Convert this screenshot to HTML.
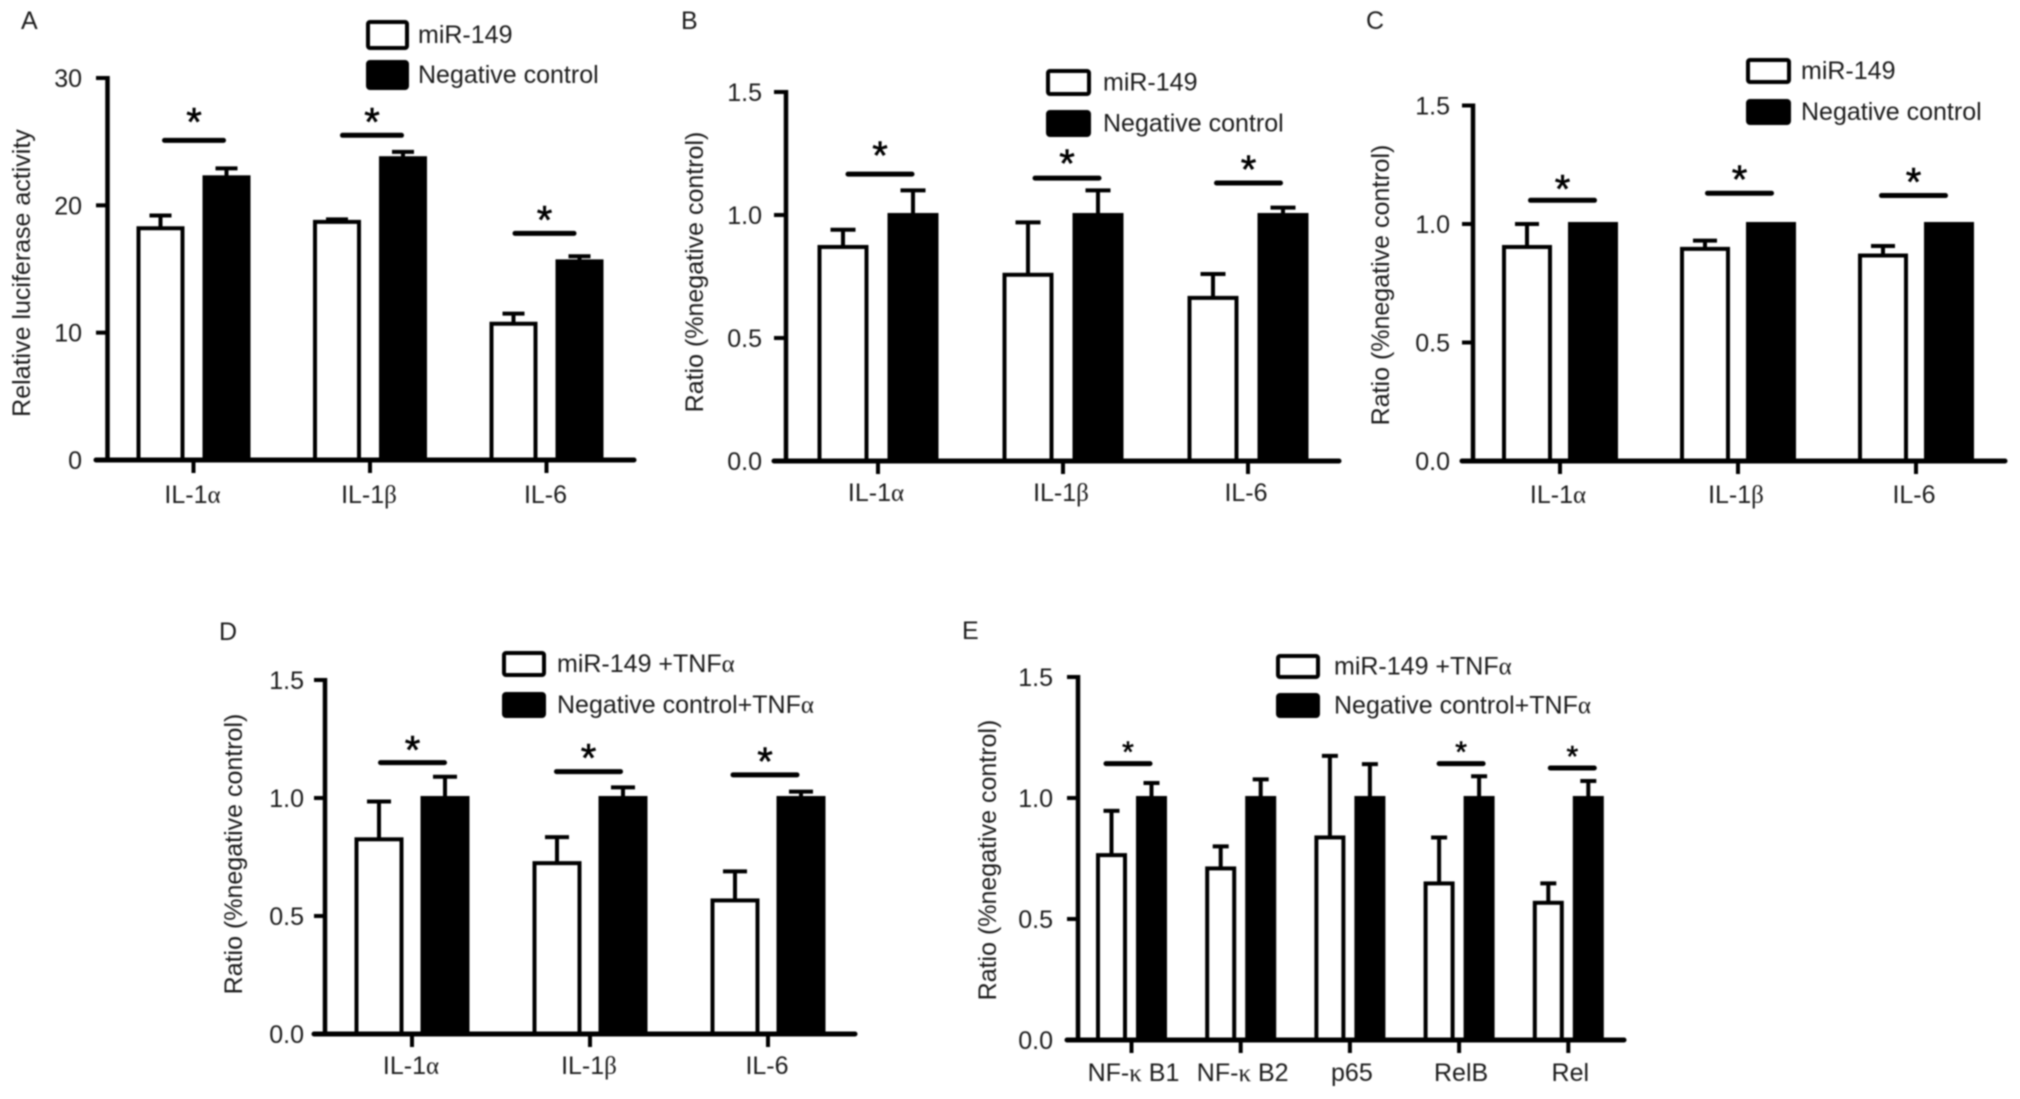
<!DOCTYPE html>
<html lang="en">
<head>
<meta charset="utf-8">
<title>miR-149 bar chart panels</title>
<style>
  html, body { margin: 0; padding: 0; background: #fff; }
  #figure { display: block; width: 2020px; height: 1099px; filter: blur(0.85px); }
  text { font-family: "Liberation Sans", sans-serif; fill: #1c1c1c; }
  .greek { font-family: "Liberation Serif", serif; }
</style>
</head>
<body>
<svg id="figure" xmlns="http://www.w3.org/2000/svg" width="2020" height="1099" viewBox="0 0 2020 1099"></svg>
<script>
// ---- Data ----
const ratioTickValues = [0, 0.5, 1, 1.5];
const ratioTickLabels = ['0.0', '0.5', '1.0', '1.5'];
const luciferaseTickValues = [0, 10, 20, 30];
const luciferaseTickLabels = ['0', '10', '20', '30'];
const ilCategories = ['IL-1α', 'IL-1β', 'IL-6'];
const nfCategories = ['NF-κ B1', 'NF-κ B2', 'p65', 'RelB', 'Rel'];
const seriesNames = ['miR-149', 'Negative control'];
const tnfSeriesNames = ['miR-149 +TNFα', 'Negative control+TNFα'];

const aMirValues = [18.2, 18.7, 10.7];
const aMirErrorTops = [19.2, 18.9, 11.5];
const aControlValues = [22.2, 23.7, 15.6];
const aControlErrorTops = [22.9, 24.2, 16.0];
const aSigLevels = [25.1, 25.5, 17.8];

const bMirValues = [0.87, 0.757, 0.663];
const bMirErrorTops = [0.94, 0.97, 0.76];
const bControlValues = [1, 1, 1];
const bControlErrorTops = [1.10, 1.10, 1.03];
const bSigLevels = [1.166, 1.15, 1.13];

const cMirValues = [0.903, 0.895, 0.867];
const cMirErrorTops = [1.0, 0.93, 0.907];
const cControlValues = [1, 1, 1];
const cControlErrorTops = [1, 1, 1];
const cSigLevels = [1.10, 1.13, 1.12];

const dMirValues = [0.825, 0.724, 0.566];
const dMirErrorTops = [0.985, 0.834, 0.689];
const dControlValues = [1, 1, 1];
const dControlErrorTops = [1.09, 1.045, 1.027];
const dSigLevels = [1.15, 1.112, 1.098];

const eMirValues = [0.764, 0.709, 0.837, 0.647, 0.567];
const eMirErrorTops = [0.947, 0.80, 1.174, 0.837, 0.647];
const eControlValues = [1, 1, 1, 1, 1];
const eControlErrorTops = [1.062, 1.077, 1.14, 1.09, 1.07];
const eSigLevels = [1.142, null, null, 1.142, 1.124];

// ---- Drawing helpers ----
const SVGNS = 'http://www.w3.org/2000/svg';
const svg = document.getElementById('figure');

function make(parent, tag, attrs) {
  const node = document.createElementNS(SVGNS, tag);
  for (const k in attrs) node.setAttribute(k, attrs[k]);
  parent.appendChild(node);
  return node;
}

function addCategoryText(node, label) {
  // Greek letters use a serif face, as in the original figure
  label.split(/([αβκ])/).forEach(function (part) {
    if (!part) return;
    const span = make(node, 'tspan', {});
    if (/[αβκ]/.test(part)) span.setAttribute('class', 'greek');
    span.textContent = part;
  });
}

function drawPanel(p) {
  const g = make(svg, 'g', {});
  
  

  const yMax = Math.max.apply(null, p.tickValues);
  const yScale = function (v) { return p.y0 - (v / yMax) * (p.y0 - p.yTop); };
  const xScale = function (i) { return p.x0 + i * p.step; };

  // Panel letter
  const letter = make(g, 'text', { x: p.letterX, y: p.letterY, 'font-size': 25 });
  
  
  letter.textContent = p.letter;

  // Y axis title
  const titleX = p.titleX, titleY = p.titleY;
  const title = make(g, 'text', {
    x: titleX, y: titleY, 'font-size': 25, 'text-anchor': 'middle',
    transform: 'rotate(-90 ' + titleX + ' ' + titleY + ')'
  });
  
  
  title.textContent = p.yTitle;

  // Bars, error bars, category ticks
  p.categories.forEach(function (cat, i) {
    const cx = xScale(i);
    [
      { c: cx - p.off, v: p.mir[i], e: p.mirErr[i], filled: false, name: 'bar-mir-' + i },
      { c: cx + p.off, v: p.ctl[i], e: p.ctlErr[i], filled: true, name: 'bar-control-' + i }
    ].forEach(function (s) {
      if (s.e > s.v) {
        const stem = make(g, 'line', { x1: s.c, x2: s.c, y1: yScale(s.v), y2: yScale(s.e), stroke: '#000', 'stroke-width': 4 });
        
        
        const cap = make(g, 'line', { x1: s.c - p.cap / 2, x2: s.c + p.cap / 2, y1: yScale(s.e), y2: yScale(s.e), stroke: '#000', 'stroke-width': 4 });
        
        
      }
      const top = yScale(s.v);
      const bar = make(g, 'rect', {
        x: s.c - p.barW / 2 + 2, y: top, width: p.barW - 4, height: p.y0 - top,
        fill: s.filled ? '#000' : '#fff', stroke: '#000', 'stroke-width': 4
      });
      
      
    });

    const tick = make(g, 'line', { x1: cx, x2: cx, y1: p.y0, y2: p.y0 + 13, stroke: '#000', 'stroke-width': 4 });
    
    

    const label = make(g, 'text', { x: cx + p.labelShift, y: p.labelY, 'font-size': 25, 'text-anchor': 'middle' });
    
    
    addCategoryText(label, cat);

    // Significance bracket and star
    if (p.sig[i] !== null) {
      const sy = yScale(p.sig[i]);
      const sc = cx + p.sigShift[i];
      const bracket = make(g, 'line', {
        x1: sc - p.sigHalf, x2: sc + p.sigHalf, y1: sy, y2: sy,
        stroke: '#000', 'stroke-width': 5, 'stroke-linecap': 'round'
      });
      
      
      const starCy = sy - p.starGap[i];
      const star = make(g, 'text', {
        x: sc, y: starCy + 0.45 * p.starSize, 'font-size': p.starSize, 'text-anchor': 'middle',
        stroke: '#000', 'stroke-width': 0.6
      });
      star.style.fill = '#000';
      
      
      star.textContent = '*';
    }
  });

  // Axes
  const yAxis = make(g, 'line', { x1: p.axisX, x2: p.axisX, y1: p.yTop - 2, y2: p.y0, stroke: '#000', 'stroke-width': 4.5 });
  
  
  const xAxis = make(g, 'line', { x1: p.axisLeft, x2: p.axisRight, y1: p.y0, y2: p.y0, stroke: '#000', 'stroke-width': 5, 'stroke-linecap': 'round' });
  
  

  p.tickValues.forEach(function (v, i) {
    const ty = yScale(v);
    const t = make(g, 'line', { x1: p.axisLeft, x2: p.axisX, y1: ty, y2: ty, stroke: '#000', 'stroke-width': 4 });
    
    
    const tl = make(g, 'text', { x: p.tickRight, y: ty + 9, 'font-size': 25, 'text-anchor': 'end' });
    
    
    tl.textContent = p.tickLabels[i];
  });

  // Legend
  p.legendNames.forEach(function (name, i) {
    const entry = make(g, 'g', {});
    
    
    const boxTop = i === 0 ? p.legBox1 : p.legBox2;
    const swatch = make(entry, 'rect', {
      x: p.legX + 2, y: boxTop + 2, width: p.legW - 4, height: p.legH - 4, rx: 2,
      fill: i === 0 ? '#fff' : '#000', stroke: '#000', 'stroke-width': 4
    });
    
    
    const txt = make(entry, 'text', { x: p.legTextX, y: boxTop + p.legH / 2 + 8, 'font-size': 25 });
    
    
    addCategoryText(txt, name);
  });
}

// ---- Panels: layout geometry plus references to the data arrays ----
drawPanel({
  letter: 'A', letterX: 21, letterY: 29, yTitle: 'Relative luciferase activity', titleX: 30, titleY: 273,
  axisX: 107.5, axisLeft: 96, axisRight: 634, y0: 460, yTop: 78, tickRight: 82,
  x0: 193.5, step: 176.5, off: 33, barW: 48, cap: 22, labelY: 503, labelShift: -1,
  categories: ilCategories, tickValues: luciferaseTickValues, tickLabels: luciferaseTickLabels,
  mir: aMirValues, mirErr: aMirErrorTops, ctl: aControlValues, ctlErr: aControlErrorTops, sig: aSigLevels,
  sigShift: [0.5, 2, -2], sigHalf: 29.5, starGap: [23, 18, 18], starSize: 40,
  legendNames: seriesNames, legX: 366, legW: 43, legH: 30, legBox1: 20, legBox2: 60, legTextX: 418
});

drawPanel({
  letter: 'B', letterX: 681, letterY: 29, yTitle: 'Ratio (%negative control)', titleX: 703, titleY: 272,
  axisX: 786, axisLeft: 774, axisRight: 1339, y0: 461, yTop: 92, tickRight: 762,
  x0: 878, step: 185, off: 35, barW: 51, cap: 25, labelY: 501, labelShift: -2,
  categories: ilCategories, tickValues: ratioTickValues, tickLabels: ratioTickLabels,
  mir: bMirValues, mirErr: bMirErrorTops, ctl: bControlValues, ctlErr: bControlErrorTops, sig: bSigLevels,
  sigShift: [2, 4, 0.5], sigHalf: 32, starGap: [23, 19, 18], starSize: 40,
  legendNames: seriesNames, legX: 1046, legW: 45, legH: 27, legBox1: 69, legBox2: 110, legTextX: 1103
});

drawPanel({
  letter: 'C', letterX: 1366, letterY: 29, yTitle: 'Ratio (%negative control)', titleX: 1389, titleY: 285,
  axisX: 1473, axisLeft: 1462, axisRight: 2005, y0: 461, yTop: 105.5, tickRight: 1450,
  x0: 1560, step: 178, off: 33, barW: 50, cap: 24, labelY: 503, labelShift: -2,
  categories: ilCategories, tickValues: ratioTickValues, tickLabels: ratioTickLabels,
  mir: cMirValues, mirErr: cMirErrorTops, ctl: cControlValues, ctlErr: cControlErrorTops, sig: cSigLevels,
  sigShift: [2.5, 1.5, -2.5], sigHalf: 32, starGap: [16, 18, 18], starSize: 40,
  legendNames: seriesNames, legX: 1746, legW: 45, legH: 26, legBox1: 58, legBox2: 99, legTextX: 1801
});

drawPanel({
  letter: 'D', letterX: 219, letterY: 640, yTitle: 'Ratio (%negative control)', titleX: 242, titleY: 854,
  axisX: 325, axisLeft: 314, axisRight: 855, y0: 1034, yTop: 680, tickRight: 304,
  x0: 412, step: 178, off: 33, barW: 49, cap: 24, labelY: 1074, labelShift: -1,
  categories: ilCategories, tickValues: ratioTickValues, tickLabels: ratioTickLabels,
  mir: dMirValues, mirErr: dMirErrorTops, ctl: dControlValues, ctlErr: dControlErrorTops, sig: dSigLevels,
  sigShift: [0.5, -1.5, -3], sigHalf: 32, starGap: [17, 18, 18], starSize: 40,
  legendNames: tnfSeriesNames, legX: 502, legW: 44, legH: 26, legBox1: 651, legBox2: 692, legTextX: 557
});

drawPanel({
  letter: 'E', letterX: 962, letterY: 639, yTitle: 'Ratio (%negative control)', titleX: 996, titleY: 860,
  axisX: 1078, axisLeft: 1067, axisRight: 1624, y0: 1040, yTop: 677, tickRight: 1053,
  x0: 1131.5, step: 109.2, off: 20, barW: 31, cap: 16, labelY: 1081, labelShift: 2,
  categories: nfCategories, tickValues: ratioTickValues, tickLabels: ratioTickLabels,
  mir: eMirValues, mirErr: eMirErrorTops, ctl: eControlValues, ctlErr: eControlErrorTops, sig: eSigLevels,
  sigShift: [-3.5, 0, 0, 2, 4], sigHalf: 22, starGap: [15, 0, 0, 15, 15], starSize: 30,
  legendNames: tnfSeriesNames, legX: 1276, legW: 44, legH: 25, legBox1: 654, legBox2: 693, legTextX: 1334
});
</script>
</body>
</html>
